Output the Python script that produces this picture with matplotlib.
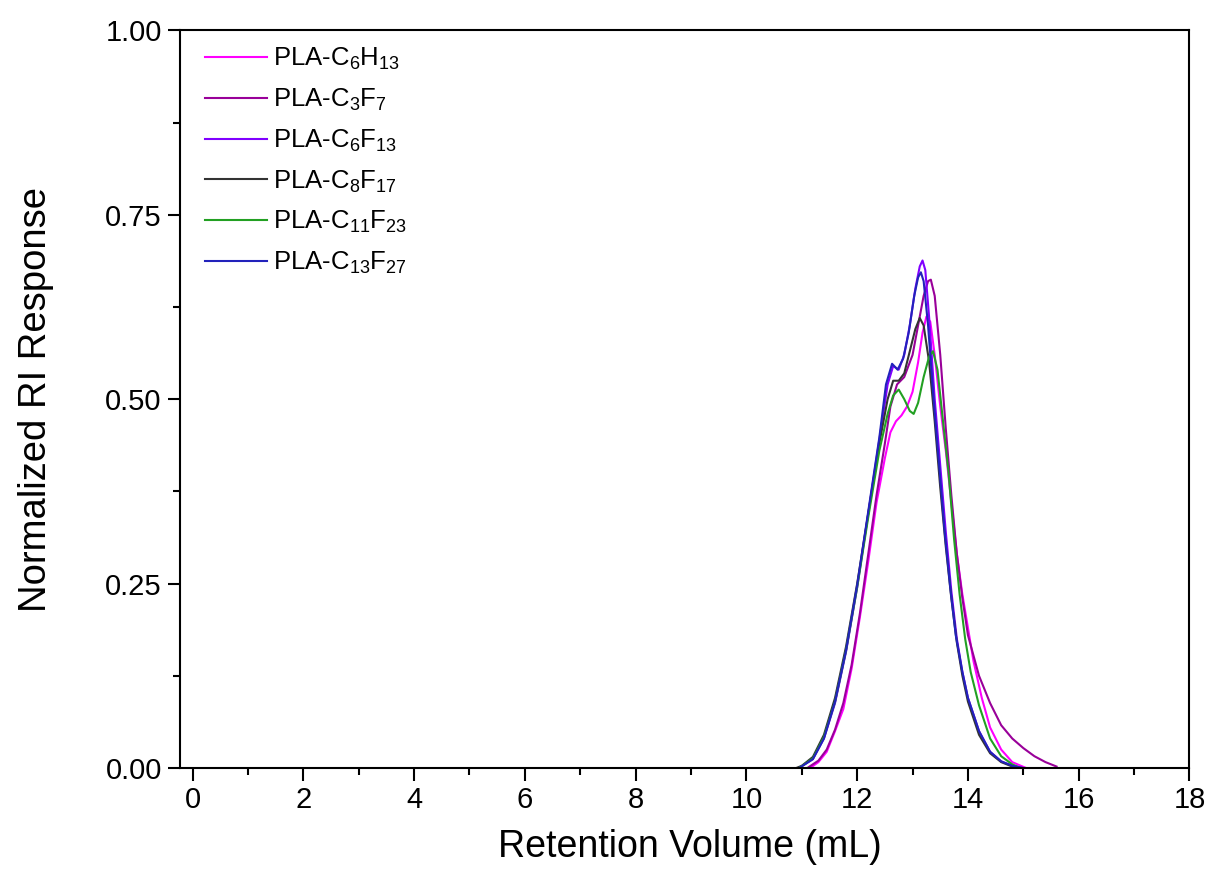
import matplotlib
matplotlib.use("Agg")
import matplotlib.pyplot as plt
from matplotlib.ticker import MultipleLocator

plt.rcParams["font.family"] = ["Liberation Sans", "DejaVu Sans"]
plt.rcParams["mathtext.default"] = "regular"

# GPC traces: retention volume (mL) / normalized RI response
v_c6h13 = [11.15, 11.3, 11.45, 11.6, 11.75, 11.9, 12.05, 12.2, 12.35, 12.5, 12.6, 12.7, 12.8, 12.9,
           13.0, 13.1, 13.18, 13.25, 13.32, 13.4, 13.5, 13.6, 13.7, 13.8, 13.9, 14.0, 14.1, 14.25,
           14.4, 14.6, 14.8, 15.05]
r_c6h13 = [0.0, 0.008, 0.022, 0.05, 0.08, 0.135, 0.205, 0.28, 0.36, 0.42, 0.455, 0.47, 0.478, 0.49,
           0.51, 0.55, 0.59, 0.612, 0.605, 0.56, 0.49, 0.43, 0.36, 0.29, 0.235, 0.19, 0.145, 0.095,
           0.055, 0.025, 0.008, 0.0]

v_c3f7 = [11.1, 11.3, 11.45, 11.6, 11.75, 11.9, 12.05, 12.2, 12.35, 12.5, 12.6, 12.72, 12.85, 13.0,
          13.1, 13.2, 13.28, 13.33, 13.4, 13.5, 13.6, 13.7, 13.8, 13.9, 14.0, 14.2, 14.4, 14.6,
          14.8, 15.0, 15.2, 15.4, 15.6]
r_c3f7 = [0.0, 0.01, 0.025, 0.052, 0.088, 0.14, 0.21, 0.29, 0.37, 0.44, 0.49, 0.52, 0.53, 0.56,
          0.6, 0.64, 0.66, 0.662, 0.64, 0.56, 0.46, 0.37, 0.29, 0.23, 0.18, 0.125, 0.088, 0.058,
          0.04, 0.027, 0.016, 0.008, 0.002]

v_c6f13 = [10.95, 11.2, 11.4, 11.6, 11.8, 12.0, 12.2, 12.4, 12.55, 12.65, 12.75, 12.85, 12.95, 13.05,
           13.13, 13.18, 13.23, 13.3, 13.4, 13.5, 13.6, 13.7, 13.8, 13.9, 14.0, 14.2, 14.4, 14.6,
           14.8, 15.0]
r_c6f13 = [0.0, 0.012, 0.04, 0.088, 0.158, 0.245, 0.345, 0.445, 0.52, 0.545, 0.54, 0.56, 0.6, 0.65,
           0.68, 0.688, 0.675, 0.61, 0.5, 0.41, 0.32, 0.24, 0.175, 0.13, 0.095, 0.05, 0.022, 0.009,
           0.003, 0.0]

v_c8f17 = [10.9, 11.0, 11.2, 11.4, 11.6, 11.8, 12.0, 12.2, 12.4, 12.55, 12.65, 12.75, 12.85, 12.95,
           13.05, 13.13, 13.2, 13.3, 13.4, 13.5, 13.6, 13.7, 13.8, 13.9, 14.0, 14.2, 14.4, 14.6,
           14.8, 14.9]
r_c8f17 = [0.0, 0.003, 0.015, 0.045, 0.095, 0.165, 0.25, 0.345, 0.44, 0.5, 0.525, 0.525, 0.535, 0.565,
           0.595, 0.61, 0.6, 0.55, 0.47, 0.38, 0.3, 0.23, 0.17, 0.125, 0.09, 0.045, 0.02, 0.008,
           0.002, 0.0]

v_c11f23 = [10.95, 11.2, 11.4, 11.6, 11.8, 12.0, 12.2, 12.4, 12.55, 12.65, 12.75, 12.85, 12.95, 13.02,
            13.1, 13.2, 13.3, 13.37, 13.45, 13.55, 13.65, 13.75, 13.85, 13.95, 14.05, 14.2, 14.4,
            14.6, 14.8, 14.95]
r_c11f23 = [0.0, 0.013, 0.042, 0.09, 0.16, 0.245, 0.34, 0.43, 0.48, 0.505, 0.513, 0.5, 0.484, 0.48,
            0.495, 0.53, 0.558, 0.565, 0.54, 0.47, 0.4, 0.31, 0.235, 0.175, 0.13, 0.085, 0.04,
            0.016, 0.005, 0.0]

v_c13f27 = [10.95, 11.2, 11.4, 11.6, 11.8, 12.0, 12.2, 12.4, 12.52, 12.63, 12.73, 12.83, 12.93, 13.03,
            13.1, 13.15, 13.2, 13.28, 13.38, 13.48, 13.58, 13.68, 13.78, 13.9, 14.0, 14.2, 14.4,
            14.6, 14.8, 15.0]
r_c13f27 = [0.0, 0.012, 0.04, 0.09, 0.16, 0.248, 0.348, 0.448, 0.52, 0.548, 0.54, 0.555, 0.59, 0.64,
            0.665, 0.672, 0.66, 0.6, 0.5, 0.41, 0.32, 0.245, 0.18, 0.13, 0.095, 0.05, 0.022, 0.009,
            0.003, 0.0]

labels = ["PLA-C$_6$H$_{13}$", "PLA-C$_3$F$_7$", "PLA-C$_6$F$_{13}$",
          "PLA-C$_8$F$_{17}$", "PLA-C$_{11}$F$_{23}$", "PLA-C$_{13}$F$_{27}$"]
colors = ["#ff00ff", "#990099", "#8000ff", "#333333", "#22a022", "#2222bb"]
series = [(v_c6h13, r_c6h13), (v_c3f7, r_c3f7), (v_c6f13, r_c6f13),
          (v_c8f17, r_c8f17), (v_c11f23, r_c11f23), (v_c13f27, r_c13f27)]

fig = plt.figure(figsize=(12.15, 8.92), dpi=100)
ax = fig.add_axes([0.148, 0.139, 0.831, 0.827])

for (v, r), lab, c in zip(series, labels, colors):
    ax.plot(v, r, color=c, lw=1.5, label=lab)

ax.set_xlim(-0.23, 18)
ax.set_ylim(0, 1)
ax.xaxis.set_major_locator(MultipleLocator(2))
ax.xaxis.set_minor_locator(MultipleLocator(1))
ax.yaxis.set_major_locator(MultipleLocator(0.25))
ax.yaxis.set_minor_locator(MultipleLocator(0.125))
ax.yaxis.set_major_formatter(matplotlib.ticker.FormatStrFormatter("%.2f"))
ax.tick_params(which="major", direction="out", length=9, width=1.5, labelsize=21, pad=4)
ax.tick_params(which="minor", direction="out", length=5, width=1.5)
for s in ax.spines.values():
    s.set_linewidth(1.5)

ax.set_xlabel("Retention Volume (mL)", fontsize=27)
ax.xaxis.set_label_coords(0.505, -0.082)
ax.set_ylabel("Normalized RI Response", fontsize=27.5)
ax.yaxis.set_label_coords(-0.125, 0.5)

ax.legend(loc="upper left", bbox_to_anchor=(0.025, 0.979), frameon=False, fontsize=18.5,
          handlelength=2.4, handletextpad=0.25, labelspacing=0.57, borderaxespad=0, borderpad=0)

plt.savefig("out.png")
